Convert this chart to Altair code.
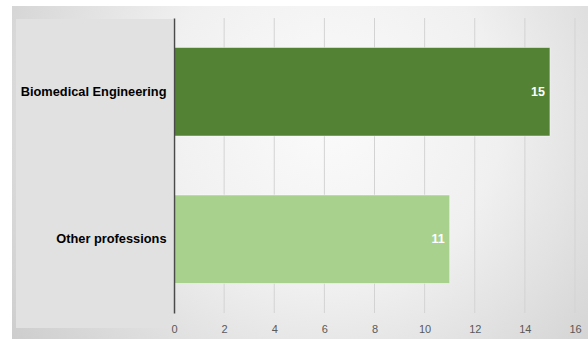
import altair as alt
import pandas as pd

categories = ["Biomedical Engineering", "Other professions"]
values = [15, 11]
bar_colors = ["#548235", "#a9d18e"]
tick_values = [0, 2, 4, 6, 8, 10, 12, 14, 16]

df = pd.DataFrame({"category": categories, "value": values, "color": bar_colors})
grid_df = pd.DataFrame({"value": tick_values[1:]})
one = pd.DataFrame({"k": [0]})

W, H = 401, 295
FONT = "Liberation Sans"

x_scale = alt.Scale(domain=[0, 16], nice=False)
y_scale = alt.Scale(domain=categories, paddingInner=0.4, paddingOuter=0.2)

x_axis = alt.Axis(
    values=tick_values, grid=False, domain=False, ticks=False, title=None,
    labelFont=FONT, labelFontSize=11, labelColor="#595959", labelPadding=10,
    labelFlush=False, zindex=1,
)
y_axis = alt.Axis(
    title=None, ticks=False, labelFont=FONT, labelFontSize=12.8,
    labelFontWeight="bold", labelColor="#000000", labelPadding=8,
    domainColor="#4a4a4a", domainWidth=1.5, zindex=1, labelLimit=300,
)

grad = alt.Gradient(
    gradient="radial",
    x1=0.55, y1=0.4, r1=0,
    x2=0.55, y2=0.4, r2=0.75,
    stops=[
        alt.GradientStop(color="#fbfbfb", offset=0),
        alt.GradientStop(color="#f0f0f0", offset=0.4),
        alt.GradientStop(color="#c6c6c6", offset=1),
    ],
)

bg = alt.Chart(one).mark_rect(fill=grad).encode(
    x=alt.value(-162), x2=alt.value(W + 13), y=alt.value(-12), y2=alt.value(H + 26)
)

panel = alt.Chart(one).mark_rect(fill="#e1e1e1").encode(
    x=alt.value(-158), x2=alt.value(-1), y=alt.value(1), y2=alt.value(310)
)

grid = alt.Chart(grid_df).mark_rule(color="#d3d3d3", strokeWidth=1).encode(
    x=alt.X("value:Q", scale=x_scale, axis=x_axis),
    y=alt.value(0),
    y2=alt.value(H),
)

bars = alt.Chart(df).mark_bar(stroke="#ffffff", strokeOpacity=0.45, strokeWidth=1).encode(
    x=alt.X("value:Q", scale=x_scale, axis=x_axis),
    y=alt.Y("category:N", scale=y_scale, sort=categories, axis=y_axis),
    color=alt.Color("color:N", scale=None, legend=None),
)

labels = alt.Chart(df).mark_text(
    align="right", baseline="middle", dx=-5, font=FONT, fontSize=12.5,
    fontWeight="bold", color="#ffffff",
).encode(
    x=alt.X("value:Q", scale=x_scale, axis=x_axis),
    y=alt.Y("category:N", scale=y_scale, sort=categories, axis=y_axis),
    text=alt.Text("value:Q"),
)

chart = alt.layer(bg, panel, grid, bars, labels).properties(
    width=W,
    height=H,
    autosize=alt.AutoSizeParams(type="none"),
    padding={"left": 174, "top": 18, "right": 13, "bottom": 26},
    background="#ffffff",
).configure_view(stroke=None)

chart.save("out.html", embed_options={"renderer": "svg", "actions": False})
